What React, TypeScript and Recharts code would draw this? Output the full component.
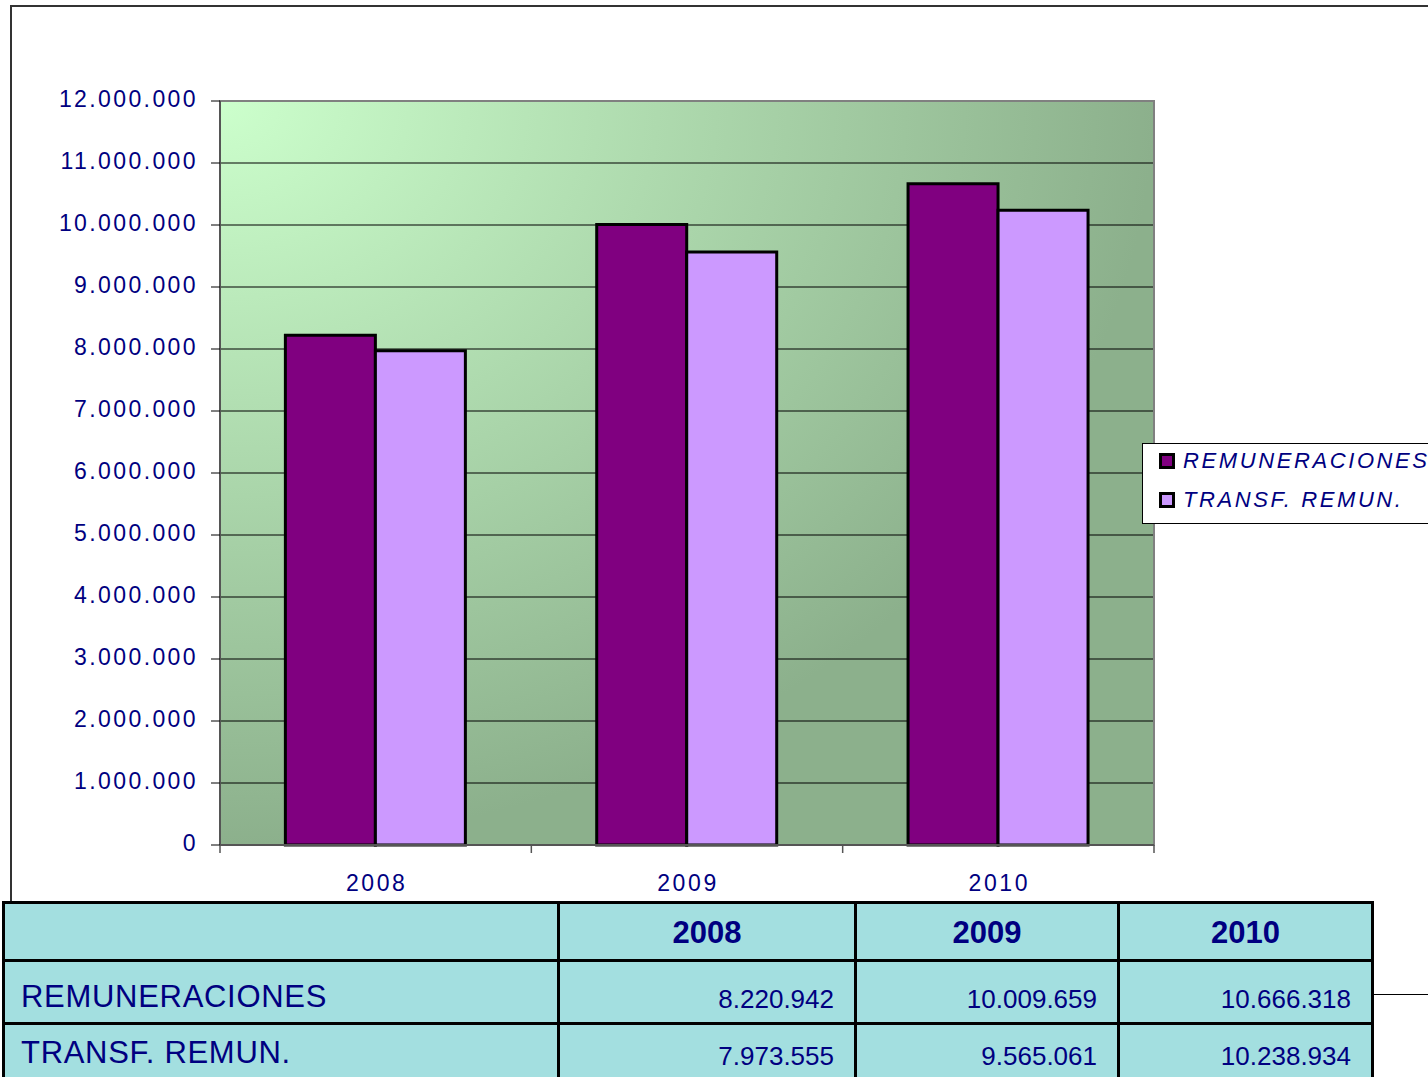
import {
  BarChart,
  Bar,
  XAxis,
  YAxis,
  CartesianGrid,
  ReferenceArea,
  Legend,
} from "recharts";

const years = ["2008", "2009", "2010"];
const remuneraciones = [8220942, 10009659, 10666318];
const transfRemun = [7973555, 9565061, 10238934];
const yTicks = [
  0, 1000000, 2000000, 3000000, 4000000, 5000000, 6000000, 7000000, 8000000,
  9000000, 10000000, 11000000, 12000000,
];
const seriesNames = ["REMUNERACIONES", "TRANSF. REMUN."];

const data = years.map((year, i) => ({
  year,
  rem: remuneraciones[i],
  tr: transfRemun[i],
}));

const NAVY = "#000080";
const FONT = "'Liberation Sans', Arial, sans-serif";

const fmt = (n: number) => String(n).replace(/\B(?=(\d{3})+(?!\d))/g, ".");

const YTick = (props: any) => {
  const { x, y, payload } = props;
  return (
    <text
      x={x}
      y={y}
      dy={6}
      textAnchor="end"
      fill={NAVY}
      fontFamily={FONT}
      fontSize={23}
      style={{ letterSpacing: "2.4px" }}
    >
      {fmt(payload.value)}
    </text>
  );
};

const XTick = (props: any) => {
  const { x, y, payload, index, visibleTicksCount } = props;
  const half = payload.offset ?? 0;
  const last = index === (visibleTicksCount ?? years.length) - 1;
  return (
    <g>
      <line x1={x - half} x2={x - half} y1={y} y2={y + 8} stroke="#555" strokeWidth={1.5} />
      {last && (
        <line x1={x + half} x2={x + half} y1={y} y2={y + 8} stroke="#555" strokeWidth={1.5} />
      )}
      <text
        x={x + 1}
        y={y}
        dy={46}
        textAnchor="middle"
        fill={NAVY}
        fontFamily={FONT}
        fontSize={23}
        style={{ letterSpacing: "2.6px" }}
      >
        {payload.value}
      </text>
    </g>
  );
};

const LegendBox = (props: any) => {
  const items = props.payload || [];
  return (
    <div
      style={{
        position: "relative",
        width: 400,
        height: 81,
        boxSizing: "border-box",
        border: "1px solid #000",
        background: "#fff",
        fontFamily: FONT,
      }}
    >
      {items.map((it: any, i: number) => (
        <div
          key={i}
          style={{
            position: "absolute",
            left: 16,
            top: 2 + i * 39,
            height: 30,
            display: "flex",
            alignItems: "center",
            whiteSpace: "nowrap",
          }}
        >
          <span
            style={{
              width: 16,
              height: 16,
              boxSizing: "border-box",
              border: "3px solid #000",
              background: it.color,
              marginRight: 8,
            }}
          />
          <span
            style={{
              color: NAVY,
              fontSize: 22,
              fontStyle: "italic",
              letterSpacing: "2.6px",
            }}
          >
            {it.value}
          </span>
        </div>
      ))}
    </div>
  );
};

const cell = (extra: any) => ({
  background: "#a3dfe0",
  color: NAVY,
  fontFamily: FONT,
  whiteSpace: "nowrap" as const,
  overflow: "hidden",
  ...extra,
});

export default function App() {
  return (
    <div
      style={{
        position: "absolute",
        left: 0,
        top: 0,
        width: 1428,
        height: 1077,
        overflow: "hidden",
        background: "#fff",
      }}
    >
      {/* marco del gráfico */}
      <div
        style={{
          position: "absolute",
          left: 10,
          top: 5,
          width: 1500,
          height: 987,
          borderLeft: "2px solid #333",
          borderTop: "2px solid #333",
          borderBottom: "1px solid #000",
        }}
      />

      <div style={{ position: "absolute", left: 0, top: 0 }}>
        <BarChart
          width={1428}
          height={900}
          data={data}
          margin={{ top: 101, right: 274, bottom: 0, left: 0 }}
          barCategoryGap="21%"
          barGap={0}
        >
          <defs>
            <radialGradient id="plotBg" cx="0" cy="0" r="1" fx="0" fy="0">
              <stop offset="0%" stopColor="#ccffcc" />
              <stop offset="100%" stopColor="#8cb08c" />
            </radialGradient>
          </defs>
          <CartesianGrid
            vertical={false}
            stroke="#000"
            strokeWidth={1}
            fill="url(#plotBg)"
          />
          <ReferenceArea
            y1={0}
            y2={12000000}
            fill="none"
            stroke="#808080"
            strokeWidth={2}
            ifOverflow="visible"
          />
          <XAxis
            dataKey="year"
            height={55}
            tickLine={false}
            tickSize={0}
            tickMargin={0}
            axisLine={{ stroke: "#555", strokeWidth: 2 }}
            tick={<XTick />}
            interval={0}
          />
          <YAxis
            width={220}
            domain={[0, 12000000]}
            ticks={yTicks}
            interval={0}
            tickSize={9}
            tickMargin={13}
            tickLine={{ stroke: "#000" }}
            axisLine={{ stroke: "#555", strokeWidth: 2 }}
            tick={<YTick />}
          />
          <Legend
            layout="vertical"
            align="center"
            verticalAlign="middle"
            content={<LegendBox />}
            wrapperStyle={{ left: 1142, top: 443, width: 400, height: 81 }}
          />
          <Bar
            dataKey="rem"
            name={seriesNames[0]}
            fill="#800080"
            stroke="#000"
            strokeWidth={3}
            isAnimationActive={false}
          />
          <Bar
            dataKey="tr"
            name={seriesNames[1]}
            fill="#cc99ff"
            stroke="#000"
            strokeWidth={3}
            isAnimationActive={false}
          />
        </BarChart>
      </div>

      {/* tabla de datos */}
      <div
        style={{
          position: "absolute",
          left: 2,
          top: 901,
          display: "grid",
          gridTemplateColumns: "552px 294px 260px 251px",
          gridTemplateRows: "55px 60px 60px",
          gap: 3,
          padding: 3,
          background: "#000",
        }}
      >
        <div style={cell({})} />
        {years.map((y) => (
          <div
            key={y}
            style={cell({
              textAlign: "center",
              fontWeight: "bold",
              fontSize: 31,
              lineHeight: "30px",
              paddingTop: 14,
            })}
          >
            {y}
          </div>
        ))}
        {[remuneraciones, transfRemun].map((vals, r) => [
          <div
            key={"l" + r}
            style={cell({
              fontSize: 31,
              lineHeight: "30px",
              letterSpacing: "0.7px",
              paddingTop: r === 0 ? 20 : 13,
              paddingLeft: 16,
            })}
          >
            {seriesNames[r]}
          </div>,
          ...vals.map((v, i) => (
            <div
              key={r + "-" + i}
              style={cell({
                textAlign: "right",
                fontSize: 26,
                lineHeight: "26px",
                paddingTop: r === 0 ? 24 : 18,
                paddingRight: 20,
              })}
            >
              {fmt(v)}
            </div>
          )),
        ])}
      </div>
    </div>
  );
}
